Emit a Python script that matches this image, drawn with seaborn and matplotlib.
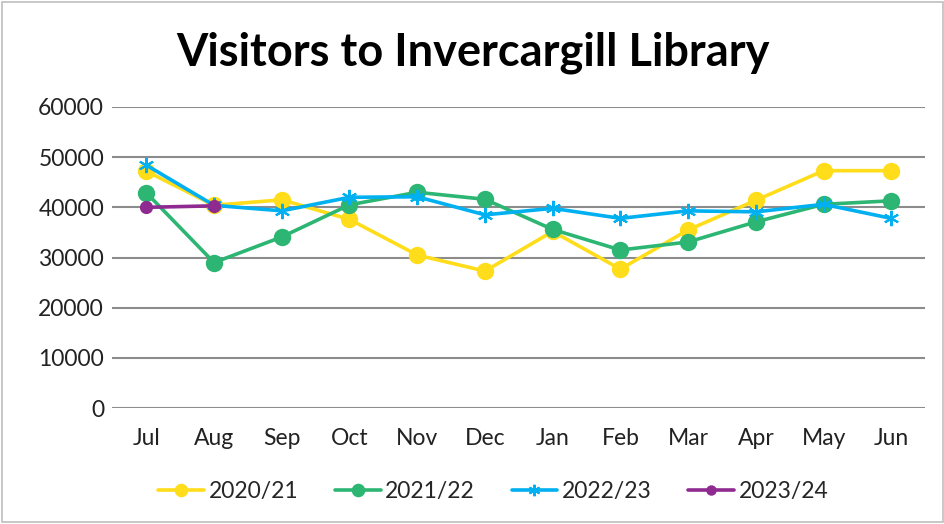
import pandas as pd
import numpy as np
import matplotlib
matplotlib.use("Agg")
import matplotlib.pyplot as plt
import seaborn as sns

months = ["Jul", "Aug", "Sep", "Oct", "Nov", "Dec", "Jan", "Feb", "Mar", "Apr", "May", "Jun"]
v2020 = [47200, 40400, 41500, 37600, 30500, 27300, 35200, 27700, 35500, 41400, 47300, 47300]
v2021 = [42900, 29000, 34100, 40500, 43000, 41600, 35600, 31500, 33100, 37100, 40600, 41300]
v2022 = [48400, 40400, 39300, 42000, 42100, 38500, 39800, 37800, 39300, 39100, 40600, 37800]
v2023 = [40000, 40300] + [np.nan] * 10
seasons = ["2020/21", "2021/22", "2022/23", "2023/24"]

rows = []
for s, vals in zip(seasons, [v2020, v2021, v2022, v2023]):
    for m, v in zip(months, vals):
        rows.append({"month": m, "season": s, "visitors": v})
df = pd.DataFrame(rows)

sns.set_style("white")
plt.rcParams["font.family"] = ["Lato", "DejaVu Sans"]

colors = {"2020/21": "#FFDD1A", "2021/22": "#2DB673", "2022/23": "#00B0F0", "2023/24": "#8E2A90"}
marks = {"2020/21": "o", "2021/22": "o", "2022/23": (6, 2, 0), "2023/24": "o"}
msize = {"2020/21": 11, "2021/22": 11, "2022/23": 11, "2023/24": 8}

fig = plt.figure(figsize=(9.45, 5.24), dpi=100)
ax = fig.add_axes([0.119, 0.221, 0.860, 0.575])
for s in seasons:
    sub = df[df["season"] == s].dropna()
    sns.lineplot(data=sub, x="month", y="visitors", color=colors[s], marker=marks[s],
                 markersize=msize[s], markeredgewidth=1.5, markeredgecolor=colors[s],
                 linewidth=2.6, label=s, ax=ax, sort=False)

ax.set_xlim(-0.5, 11.5)
ax.set_ylim(0, 60000)
ax.set_yticks(range(0, 60001, 10000))
ax.yaxis.grid(True, color="#8c8c8c", linewidth=1.5)
for sp in ax.spines.values():
    sp.set_visible(False)
ax.tick_params(axis="both", length=0, labelsize=16.5, colors="#222222")
ax.tick_params(axis="x", pad=14)
ax.tick_params(axis="y", pad=6)
ax.set_xlabel("")
ax.set_ylabel("")

fig.text(0.5, 0.9, "Visitors to Invercargill Library", ha="center", va="center",
         fontsize=32.5, fontweight="bold", color="black")

handles, labels = ax.get_legend_handles_labels()
ax.legend(handles, labels, loc="center", bbox_to_anchor=(0.522, 0.062), bbox_transform=fig.transFigure,
          ncol=4, frameon=False, fontsize=16.5, handlelength=2.0, columnspacing=1.6,
          handletextpad=0.2, markerscale=0.75)

fig.patches.append(plt.Rectangle((0.002, 0.003), 0.996, 0.994, transform=fig.transFigure,
                                 fill=False, edgecolor="#bfbfbf", linewidth=1.2))

fig.savefig("out.png", dpi=100)
